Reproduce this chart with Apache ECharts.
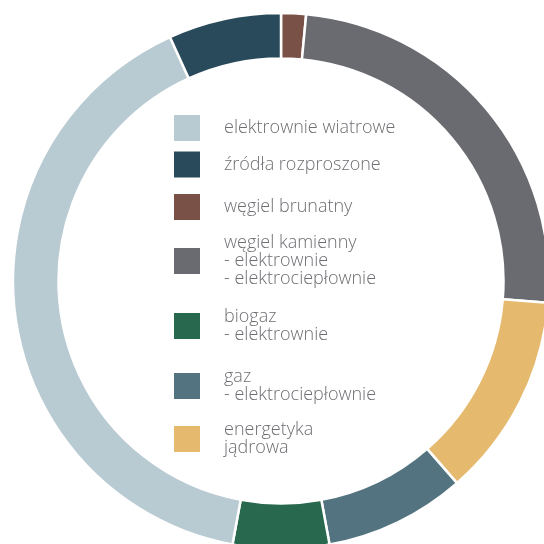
<!DOCTYPE html>
<html>
<head>
<meta charset="utf-8">
<script src="https://cdn.jsdelivr.net/npm/echarts@6/dist/echarts.min.js"></script>
<style>
  html, body { margin: 0; padding: 0; background: #ffffff; }
  #chart { width: 544px; height: 544px; }
</style>
</head>
<body>
<div id="chart"></div>
<script>
// Energy sources – share of installed capacity (%), clockwise from 12 o'clock
const sliceNames = [
  'węgiel brunatny',
  'węgiel kamienny',
  'energetyka jądrowa',
  'gaz',
  'biogaz',
  'elektrownie wiatrowe',
  'źródła rozproszone'
];
const sliceValues = [1.5, 24.8, 12.3, 8.5, 5.8, 40.3, 6.8];
const sliceColors = ['#7a5146', '#6a6b70', '#e6ba6e', '#52737f', '#27684f', '#b8cad2', '#294a5b'];

// Legend entries (top to bottom) and the text shown for each
const legendOrder = [
  'elektrownie wiatrowe',
  'źródła rozproszone',
  'węgiel brunatny',
  'węgiel kamienny',
  'biogaz',
  'gaz',
  'energetyka jądrowa'
];
const legendText = {
  'elektrownie wiatrowe': 'elektrownie wiatrowe',
  'źródła rozproszone': 'źródła rozproszone',
  'węgiel brunatny': 'węgiel brunatny',
  'węgiel kamienny': 'węgiel kamienny\n- elektrownie\n- elektrociepłownie',
  'biogaz': 'biogaz\n- elektrownie',
  'gaz': 'gaz\n- elektrociepłownie',
  'energetyka jądrowa': 'energetyka\njądrowa'
};
const legendTops = [113, 149.5, 192, 234, 308, 368, 421];

const chart = echarts.init(document.getElementById('chart'), null, { renderer: 'canvas' });

const legends = legendOrder.map((name, i) => ({
  data: [name],
  left: 172,
  top: legendTops[i],
  orient: 'vertical',
  icon: 'rect',
  itemWidth: 28,
  itemHeight: 28,
  padding: 0,
  formatter: n => legendText[n],
  textStyle: {
    color: '#6d6e72',
    fontFamily: 'Open Sans',
    fontWeight: 300,
    fontSize: 18,
    lineHeight: 18,
    padding: [0, 0, 0, 18]
  }
}));

chart.setOption({
  animation: false,
  backgroundColor: '#ffffff',
  legend: legends,
  series: [{
    type: 'pie',
    center: [281, 281],
    radius: [222.5, 268],
    startAngle: 90,
    clockwise: true,
    avoidLabelOverlap: false,
    label: { show: false },
    labelLine: { show: false },
    emphasis: { disabled: true },
    itemStyle: { borderColor: '#ffffff', borderWidth: 2.5 },
    data: sliceNames.map((n, i) => ({
      name: n,
      value: sliceValues[i],
      itemStyle: { color: sliceColors[i] }
    }))
  }]
});
</script>
</body>
</html>
